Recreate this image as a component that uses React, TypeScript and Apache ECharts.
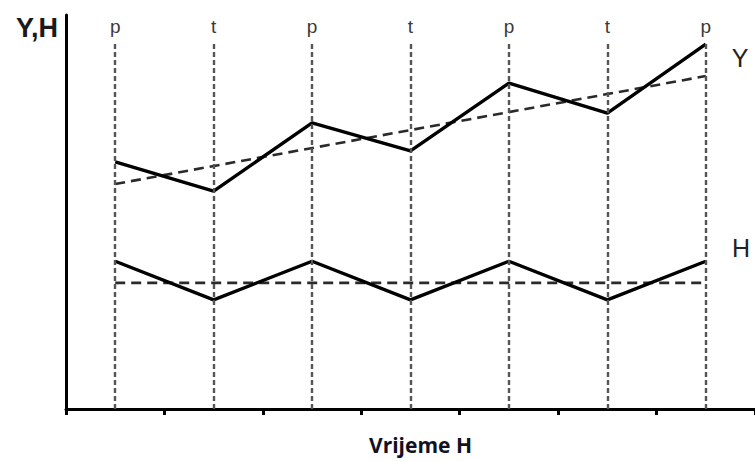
import React, { useEffect, useRef } from "react";
import * as echarts from "echarts";

// Phase of each observation: p = peak (vrh), t = trough (dno)
const phases = ["p", "t", "p", "t", "p", "t", "p"];
// Output Y (solid line)
const yValues = [6.27, 5.53, 7.26, 6.55, 8.27, 7.51, 9.26];
// Trend of Y (dashed line, endpoints only)
const yTrend = [5.71, null, null, null, null, null, 8.45];
// H (solid line)
const hValues = [3.75, 2.77, 3.75, 2.77, 3.75, 2.77, 3.75];
// Mean level of H (dashed line, endpoints only)
const hMean = [3.2, null, null, null, null, null, 3.2];
// Height where the vertical guide lines end
const guideTop = 9.27;

const axisMin = 0;
const axisMax = 10;

export default function App() {
  const ref = useRef<HTMLDivElement>(null);

  useEffect(() => {
    if (!ref.current) return;
    const chart = echarts.init(ref.current, null, { renderer: "svg" });

    const guides = phases.map((_, i) => [{ coord: [i, axisMin] }, { coord: [i, guideTop] }]);

    chart.setOption({
      animation: false,
      backgroundColor: "#ffffff",
      grid: { left: 66, right: 0, top: 15, bottom: 52, containLabel: false, outerBoundsMode: "none" },
      xAxis: [
        {
          type: "category",
          data: phases,
          boundaryGap: true,
          name: "Vrijeme H",
          nameLocation: "middle",
          nameGap: 25,
          nameTextStyle: {
            fontFamily: "Open Sans",
            fontWeight: "bold",
            fontSize: 21,
            color: "#111122",
            padding: [0, 0, 0, 20],
          },
          axisLine: { show: true, lineStyle: { color: "#000", width: 3 } },
          axisTick: { show: true, length: 6, alignWithLabel: false, lineStyle: { color: "#000", width: 3 } },
          axisLabel: { show: false },
          splitLine: { show: false },
        },
        {
          type: "category",
          data: phases,
          position: "top",
          boundaryGap: true,
          axisLine: { show: false },
          axisTick: { show: false },
          axisLabel: {
            show: true,
            inside: true,
            margin: 2,
            interval: 0,
            fontFamily: "Liberation Sans",
            fontSize: 19,
            color: "#3a3a3a",
          },
          splitLine: { show: false },
        },
      ],
      yAxis: {
        type: "value",
        min: axisMin,
        max: axisMax,
        axisLine: { show: true, lineStyle: { color: "#000", width: 3 } },
        axisTick: { show: false },
        axisLabel: { show: false },
        splitLine: { show: false },
      },
      graphic: [
        {
          type: "text",
          x: 58,
          y: 28,
          style: {
            text: "Y,H",
            fontFamily: "Liberation Sans",
            fontWeight: "bold",
            fontSize: 27,
            fill: "#1a1a1a",
            align: "right",
            verticalAlign: "middle",
          },
        },
        {
          type: "text",
          x: 740,
          y: 58,
          style: {
            text: "Y",
            fontFamily: "Liberation Sans",
            fontSize: 25,
            fill: "#222",
            align: "center",
            verticalAlign: "middle",
          },
        },
        {
          type: "text",
          x: 741,
          y: 248,
          style: {
            text: "H",
            fontFamily: "Liberation Sans",
            fontSize: 25,
            fill: "#222",
            align: "center",
            verticalAlign: "middle",
          },
        },
      ],
      series: [
        {
          name: "guides",
          type: "line",
          data: [],
          z: 1,
          markLine: {
            silent: true,
            symbol: ["none", "none"],
            lineStyle: { color: "#555", width: 2.4, type: [5, 3] },
            label: { show: false },
            data: guides,
          },
        },
        {
          name: "Y trend",
          type: "line",
          data: yTrend,
          connectNulls: true,
          symbol: "none",
          z: 2,
          lineStyle: { color: "#2a2a2a", width: 2.6, type: [10, 6] },
        },
        {
          name: "H mean",
          type: "line",
          data: hMean,
          connectNulls: true,
          symbol: "none",
          z: 2,
          lineStyle: { color: "#2a2a2a", width: 2.6, type: [10, 6] },
        },
        {
          name: "Y",
          type: "line",
          data: yValues,
          symbol: "none",
          z: 3,
          lineStyle: { color: "#000", width: 3.4 },
        },
        {
          name: "H",
          type: "line",
          data: hValues,
          symbol: "none",
          z: 3,
          lineStyle: { color: "#000", width: 3.4 },
        },
      ],
    });

    return () => chart.dispose();
  }, []);

  return (
    <div
      ref={ref}
      style={{ position: "fixed", left: 0, top: 0, width: 755, height: 461, background: "#fff" }}
    />
  );
}
